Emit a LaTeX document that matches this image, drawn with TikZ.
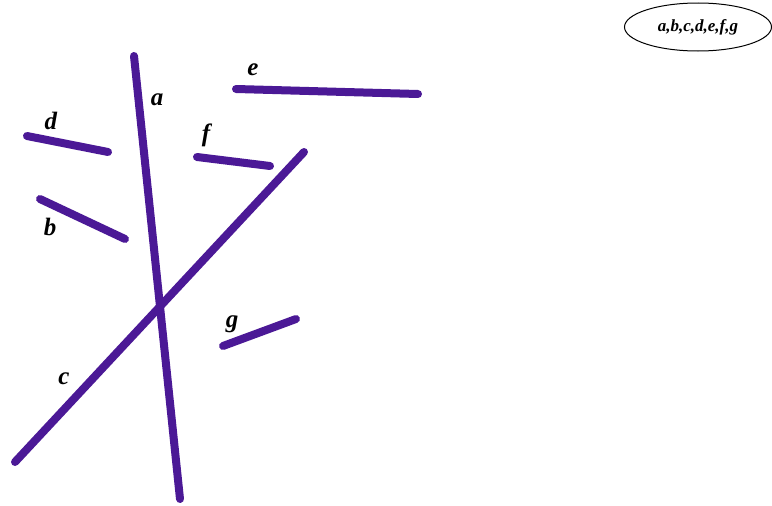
\documentclass[tikz,border=0pt]{standalone}
\usepackage{fontspec}
\setmainfont{Liberation Serif}
\usetikzlibrary{shapes.geometric}
\definecolor{seg}{RGB}{75,25,150}
\begin{document}
\begin{tikzpicture}[x=1pt,y=-1pt,
  segline/.style={draw=seg,line width=8pt,line cap=round},
  lbl/.style={font=\fontsize{25}{25}\selectfont\bfseries\itshape,inner sep=0pt},
  pt/.style={inner sep=0pt,minimum size=0pt}]
\useasboundingbox (0,0) rectangle (772,506);
\coordinate (a1) at (134,56); \coordinate (a2) at (180,499);
\coordinate (c1) at (15,462); \coordinate (c2) at (304,152);
\coordinate (d1) at (27,136); \coordinate (d2) at (108,152);
\coordinate (b1) at (40,199); \coordinate (b2) at (125,239);
\coordinate (e1) at (236,89); \coordinate (e2) at (418,94);
\coordinate (f1) at (197,157); \coordinate (f2) at (270,166);
\coordinate (g1) at (223,346); \coordinate (g2) at (296,319);
\draw[segline] (a1) -- (a2);
\draw[segline] (c1) -- (c2);
\draw[segline] (d1) -- (d2);
\draw[segline] (b1) -- (b2);
\draw[segline] (e1) -- (e2);
\draw[segline] (f1) -- (f2);
\draw[segline] (g1) -- (g2);
\node[lbl] (la) at (157,100) {a};
\node[lbl] (ld) at (51,121) {d};
\node[lbl] (lb) at (50,227) {b};
\node[lbl] (le) at (253,70) {e};
\node[lbl] (lf) at (206,135) {f};
\node[lbl] (lg) at (232,324) {g};
\node[lbl] (lc) at (64,379) {c};
\node[ellipse,draw,line width=1pt,minimum width=147pt,minimum height=48pt,inner sep=0pt,
  font=\fontsize{17}{17}\selectfont\bfseries\itshape] (set) at (698,27) {a,b,c,d,e,f,g};
\end{tikzpicture}
\end{document}
